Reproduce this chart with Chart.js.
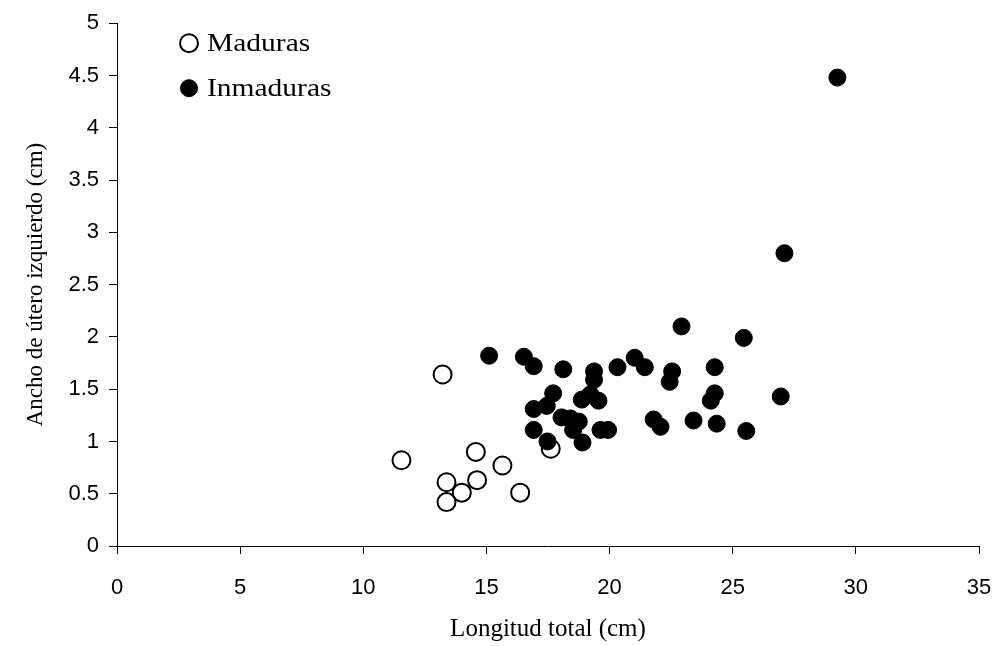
<!DOCTYPE html>
<html>
<head>
<meta charset="utf-8">
<script src="https://cdn.jsdelivr.net/npm/chart.js@4/dist/chart.umd.min.js"></script>
<style>
  html, body { margin: 0; padding: 0; background: #fff; }
  #wrap { width: 999px; height: 646px; }
</style>
</head>
<body>
<div id="wrap"><canvas id="scatterChart" width="999" height="646"></canvas></div>
<script>
// Maduras (open circles)
const madurasX = [11.55, 13.22, 14.57, 15.65, 13.38, 14.62, 14.0, 13.38, 16.37, 17.61];
const madurasY = [0.82, 1.64, 0.90, 0.77, 0.61, 0.63, 0.51, 0.42, 0.51, 0.93];

// Inmaduras (filled circles)
const inmadurasX = [15.11, 16.52, 16.92, 18.12, 19.37, 19.37, 17.71, 17.45, 16.92, 18.05,
  18.41, 18.75, 18.87, 19.22, 19.55, 16.92, 17.48, 18.52, 18.9, 19.63,
  19.94, 22.92, 25.45, 21.02, 21.43, 20.32, 22.54, 22.44, 24.27, 24.27,
  24.11, 26.95, 21.79, 22.07, 23.41, 24.35, 25.55, 29.25, 27.1];
const inmadurasY = [1.82, 1.81, 1.72, 1.69, 1.67, 1.59, 1.46, 1.34, 1.31, 1.23,
  1.22, 1.19, 1.40, 1.45, 1.39, 1.11, 1.00, 1.11, 0.99, 1.11,
  1.11, 2.10, 1.99, 1.80, 1.71, 1.71, 1.67, 1.57, 1.71, 1.46,
  1.39, 1.43, 1.21, 1.14, 1.20, 1.17, 1.10, 4.48, 2.80];

const xTitle = "Longitud total (cm)";
const yTitle = "Ancho de útero izquierdo (cm)";

function toPoints(xs, ys) {
  return xs.map((x, i) => ({ x: x, y: ys[i] }));
}

// legend drawn inside the plot, top left
const insideLegend = {
  id: "insideLegend",
  afterDraw(chart) {
    const ctx = chart.ctx;
    const area = chart.chartArea;
    const rows = [
      { ds: chart.data.datasets[0], y: area.top + 20 },
      { ds: chart.data.datasets[1], y: area.top + 65 }
    ];
    ctx.save();
    rows.forEach(r => {
      const cx = area.left + 72;
      ctx.beginPath();
      ctx.arc(cx, r.y, r.ds.pointRadius, 0, Math.PI * 2);
      ctx.fillStyle = r.ds.backgroundColor;
      ctx.fill();
      ctx.lineWidth = r.ds.borderWidth;
      ctx.strokeStyle = r.ds.borderColor;
      ctx.stroke();
      ctx.save();
      ctx.translate(area.left + 90, r.y + 1);
      ctx.scale(1.18, 1);
      ctx.font = "25px 'Liberation Serif'";
      ctx.fillStyle = "#000";
      ctx.textBaseline = "middle";
      ctx.fillText(r.ds.label, 0, 0);
      ctx.restore();
    });
    ctx.restore();
  }
};

new Chart(document.getElementById("scatterChart"), {
  type: "scatter",
  data: {
    datasets: [
      {
        label: "Maduras",
        data: toPoints(madurasX, madurasY),
        backgroundColor: "#ffffff",
        borderColor: "#000000",
        borderWidth: 2,
        pointRadius: 9,
        pointHoverRadius: 9,
        order: 2
      },
      {
        label: "Inmaduras",
        data: toPoints(inmadurasX, inmadurasY),
        backgroundColor: "#000000",
        borderColor: "#000000",
        borderWidth: 1,
        pointRadius: 8.5,
        pointHoverRadius: 8.5,
        order: 1
      }
    ]
  },
  options: {
    responsive: false,
    animation: false,
    devicePixelRatio: 1,
    layout: { padding: { top: 18, right: 20, left: 0, bottom: 0 } },
    plugins: {
      legend: { display: false },
      tooltip: { enabled: false }
    },
    scales: {
      x: {
        type: "linear",
        min: 0,
        max: 35,
        afterFit: s => { s.height = 100; s.paddingRight = 0; s.paddingLeft = 0; },
        ticks: {
          stepSize: 5,
          color: "#000",
          padding: 21,
          callback: v => String(v),
          font: { family: "'Liberation Sans'", size: 22 }
        },
        grid: { drawOnChartArea: false, drawTicks: true, tickLength: 8, color: "#000" },
        border: { color: "#000", width: 1 },
        title: {
          display: true,
          text: xTitle,
          color: "#000",
          padding: { top: 0, bottom: 2 },
          font: { family: "'Liberation Serif'", size: 25 }
        }
      },
      y: {
        min: 0,
        max: 5,
        afterFit: s => { s.width = 117; },
        ticks: {
          stepSize: 0.5,
          color: "#000",
          padding: 10,
          callback: v => String(v),
          font: { family: "'Liberation Sans'", size: 22 }
        },
        grid: { drawOnChartArea: false, drawTicks: true, tickLength: 8, color: "#000" },
        border: { color: "#000", width: 1 },
        title: {
          display: true,
          text: yTitle,
          color: "#000",
          padding: { top: 22, bottom: 0 },
          font: { family: "'Liberation Serif'", size: 23 }
        }
      }
    }
  },
  plugins: [insideLegend]
});
</script>
</body>
</html>
